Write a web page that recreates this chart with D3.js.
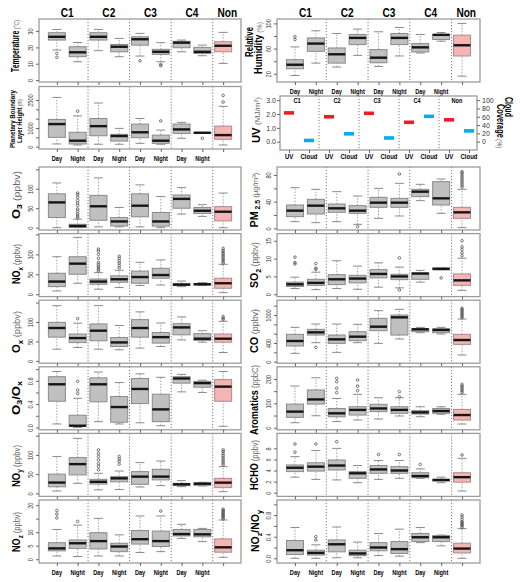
<!DOCTYPE html>
<html><head><meta charset="utf-8">
<script src="https://cdn.jsdelivr.net/npm/d3@7"></script>
<style>body{margin:0;background:#fff;} svg{display:block;font-family:"Liberation Sans",Arial,sans-serif;}</style>
</head><body>
<script>
// ---------- categories ----------
const groups = ["C1","C2","C3","C4","Non"];
const periods = ["Day","Night","Day","Night","Day","Night","Day","Night",""];
const uvCats = ["UV","Cloud"];

// ---------- box statistics: [lower whisker, Q1, median, Q3, upper whisker] ----------
const temperature = [[18.4,24.5,26.5,29,31],[11.2,14.3,17,20.4,23],[18,24.5,26.5,29,31],[14.3,17.3,20.4,21.8,25.5],[14.7,21.4,25,26.5,28.6],[11.2,15.7,17.3,18.8,22.9],[17.3,19.8,22.9,23.7,24.5],[14.9,16.3,17.3,20,21.4],[10.2,17.3,21,23.5,29.2]];
const temperatureOut = [[16.3,13.9],[],[],[],[11.8],[9.6,8.8],[],[],[]];

const pblh = [[145,500,1210,1460,2640],[90,145,320,770,1650],[130,585,1100,1510,2340],[130,300,570,660,980],[180,480,770,1210,1510],[130,180,320,620,890],[450,710,925,1210,1300],[730,735,745,760,765],[90,395,620,1100,2160]];
const pblhOut = [[],[1900],[],[],[],[1380],[],[450],[2390,2750]];

const humidity = [[17.3,28,34.4,42.4,62.7],[37,55.7,68,77,88.3],[30.7,37,51,61,84],[49.3,66.4,77,82.4,91],[31.7,37.6,45.6,58.4,86.7],[48.3,66.4,77,84,93.6],[53,54.7,62,68,82.4],[71.7,74.4,81.9,82.4,85.6],[16.3,48.3,65.3,81.3,100]];
const humidityOut = [[74.4,78.7],[],[],[],[],[],[],[],[]];

const uvValues = [2.08,1.8,2.05,1.4,1.58];
const cloudValues = [3,19,9,61,26];

const o3 = [[0,26,65,87,115],[0,0.5,4.3,8.7,22],[2,19,55,83,128],[2,4.3,16,26,52],[2,28,56.5,87,110],[0,4,16,39,80],[35,50,74,84,103],[29,36.5,43.5,52,59],[0,17.4,41,54,89]];
const o3Out = [[],[25,30,35,42,48,57,63,70,78,85,89],[],[],[],[],[],[],[]];

const nox = [[8,19,31.7,52.5,94],[27.5,50,76.7,94,142.5],[12.5,25,31.7,38,54],[16.7,30,37.5,46,60],[21.7,27.5,43,58,80],[23,40,48,65,86],[19,21.7,24,27,33],[21.7,23,25,27,29],[4,15,27.5,40,75]];
const noxOut = [[],[],[58,62,66,70,75,80,90,100,108,113],[66,72,78,84,90,95],[],[],[],[],[78,82,86,90,94,98,102,106,110,115]];

const ox = [[30,61,84.5,99,142],[34.5,47,58.6,69,97],[30,51.7,77.6,95,142],[28.5,37,47.4,60,91],[32.8,61,84.5,106,126],[37,45.7,61,73,97.4],[54,67,86,95.7,113],[48,52.6,57,70,77.6],[21.5,48,57,69,101.7]];
const oxOut = [[],[108.6],[],[],[],[],[],[],[106,110,114]];

const o3ox = [[0.06,0.45,0.74,0.87,0.96],[0,0.02,0.03,0.21,0.5],[0.1,0.44,0.74,0.85,0.95],[0.06,0.09,0.35,0.53,0.77],[0.08,0.41,0.66,0.84,0.92],[0.03,0.1,0.31,0.57,0.86],[0.61,0.76,0.84,0.87,0.91],[0.6,0.69,0.76,0.79,0.81],[0.02,0.45,0.7,0.82,0.96]];
const o3oxOut = [[],[0.58,0.64,0.79],[],[],[],[],[],[],[]];

const noy = [[6,17,28,50,96],[26,48,76,93,143],[9,24,30,36.5,52],[10,30,39,43.5,58],[16.5,23.5,43.5,56.5,80],[20,35,43.5,62.6,84],[17.4,20,23.5,26,33],[19,21,25,27.8,28.7],[4.3,14.8,27.8,39,69.5]];
const noyOut = [[],[],[61,70,77,87,96,104,113],[76,84,90,96],[],[],[],[],[74,79,84,89,94,99,104,109,113]];

const noz = [[1.2,3.1,4,6.1,11],[1,4,5.9,7.1,12.6],[1.2,3.8,6.7,9.8,15.1],[1.2,2.8,4.7,5.9,9],[2.5,5.6,7.4,10.6,16],[2.8,4.7,6.7,10.4,16],[7.7,8.6,9.3,11,12.9],[6.5,8.3,9.2,11,11.4],[0.7,2.6,4.4,7.5,14.5]];
const nozOut = [[15.3,16.7,18],[14],[],[],[],[17.8],[],[],[14.9,15.3,15.7,16.1,16.5,16.9,17.3,17.7,18.1,18.5]];

const pm25 = [[10,17.5,26.5,35,61],[8.5,21.5,34,43.5,58.5],[10,24,30,36.5,55],[6,22.5,26.5,34,48.5],[15,31.5,38.5,46.5,60],[18.5,31.5,38.5,45,67.5],[41.5,47.5,55,58.5,66],[22.5,35,45,70,74],[1,15,24,31.5,58.5]];
const pm25Out = [[],[],[],[2.5],[],[81.5],[],[],[62,65,68,71,74,77,80,83,85]];

const so2 = [[1.6,2.2,2.8,3.4,4.8],[1.3,2.5,3.2,4.2,6.2],[1.6,2.7,4.2,5.5,9.4],[1.4,3.2,4.4,5.3,7.9],[2,4.6,5.7,6.9,8.8],[1.8,4.1,5,5.6,7.6],[3.4,4.2,5.8,6,6.7],[6.9,6.9,7.1,7.4,7.4],[1.1,2.5,3.9,5.7,10.1]];
const so2Out = [[8.5,8.9,10.4],[7,7.3,8.6],[],[],[],[1.2,10.2],[],[4.6],[10.8,11.6,12.5,13.3,15]];

const co = [[179,336,443,586,736],[407,571,629,693,807],[200,393,479,571,807],[407,450,536,643,800],[393,664,750,929,1093],[486,571,950,1000,1121],[621,643,693,707,736],[593,621,679,707,736],[143,371,464,586,914]];
const coOut = [[],[307],[],[],[],[],[],[],[940,970,1000,1030,1060,1090,1120,1143]];

const aromatics = [[20.5,42.5,66,97,171],[49,97,116,155,205],[25,45,59,79,120],[31.5,52,73,86,137],[35.6,66,79,96,123],[48,59,73,86,123],[45,56,63,70,86],[55,59,68.5,79,86],[15,31.5,52,75,137]];
const aromaticsOut = [[],[],[144,162,189,203],[152,171,196],[],[127,148],[],[],[144,151,158,164,171,178]];

const hcho = [[2.8,3.8,4.5,5,6.5],[2.4,3.9,4.7,5.4,7.6],[2.3,4.1,4.9,5.9,8],[1.8,2.6,3.5,3.8,4.9],[2.4,3.5,4.2,4.9,5.8],[2.6,3.5,4,4.7,5.8],[2.6,2.7,3,3.6,4.3],[1.8,2.1,2.3,2.4,2.8],[0.3,1.9,2.8,3.6,6.2]];
const hchoOut = [[7.3,8.8],[8.8],[9.2],[],[6.9],[6.9],[5.1],[],[6.8]];

const nozNoy = [[0,0.07,0.15,0.33,0.57],[0,0.06,0.1,0.15,0.25],[0.01,0.12,0.26,0.34,0.58],[0.01,0.05,0.09,0.15,0.3],[0.05,0.14,0.2,0.29,0.46],[0.04,0.09,0.17,0.31,0.54],[0.29,0.31,0.39,0.46,0.57],[0.23,0.31,0.39,0.42,0.43],[0,0.1,0.18,0.28,0.55]];
const nozNoyOut = [[],[0.34,0.4],[],[],[],[],[],[],[0.57,0.6,0.62,0.64,0.66,0.68,0.72,0.76,0.8]];

// ---------- tick values and labelled ticks ----------
const tTemp=[0,10,20,30], lTemp=[0,10,20,30];
const tPblh=[0,500,1000,1500,2000,2500], lPblh=[0,1000,2500];
const tRH=[20,40,60,80,100], lRH=[20,60,100];
const tPpb=[0,50,100,150], lPpb=[0,50,100];
const tRatio=[0,0.2,0.4,0.6,0.8,1.0], lRatio=[0,0.4,0.8];
const tNoz=[0,5,10,15,20], lNoz=[0,5,10,20];
const tPm=[0,20,40,60,80], lPm=[0,40,80];
const tSo2=[0,5,10,15], lSo2=[0,5,10,15];
const tCo=[0,200,400,600,800,1000,1200], lCo=[0,400,1000];
const tArom=[0,50,100,150,200], lArom=[0,100,200];
const tHcho=[0,2,4,6,8], lHcho=[0,2,4,6,8];
const tUV=[0,1,2,3], tCloud=[0,20,40,60,80,100];

// ---------- layout ----------
const svg = d3.select("body").append("svg").attr("width",520).attr("height",582);
const colX = [[39,241],[277,480]];
const xDom = [0.14,9.86];
const rowTop = [167,233.6,300.2,366.8,433.4,500];
const PH = 63;
const FONT = '"Liberation Sans", Arial, sans-serif';

const panels = [
  {s:temperature,o:temperatureOut,col:0,top:19,h:PH,dom:[-1.2,37.4],t:tTemp,l:lTemp,xl:false},
  {s:pblh,o:pblhOut,col:0,top:86.5,h:62.5,dom:[-125,3225],t:tPblh,l:lPblh,xl:true},
  {s:humidity,o:humidityOut,col:1,top:19,h:PH,dom:[7,107],t:tRH,l:lRH,xl:true},
  {s:o3,o:o3Out,col:0,top:rowTop[0],h:PH,dom:[-6,156],t:tPpb,l:lPpb},
  {s:nox,o:noxOut,col:0,top:rowTop[1],h:PH,dom:[-6,152],t:tPpb,l:lPpb},
  {s:ox,o:oxOut,col:0,top:rowTop[2],h:PH,dom:[-6,156],t:tPpb,l:lPpb},
  {s:o3ox,o:o3oxOut,col:0,top:rowTop[3],h:PH,dom:[-0.04,1.04],t:tRatio,l:lRatio,fmt:d3.format(".1f")},
  {s:noy,o:noyOut,col:0,top:rowTop[4],h:PH,dom:[-8,156],t:tPpb,l:lPpb},
  {s:noz,o:nozOut,col:0,top:rowTop[5],h:PH,dom:[-1.4,21.9],t:tNoz,l:lNoz,xl:true},
  {s:pm25,o:pm25Out,col:1,top:rowTop[0],h:PH,dom:[-2.5,92],t:tPm,l:lPm},
  {s:so2,o:so2Out,col:1,top:rowTop[1],h:PH,dom:[-0.65,17],t:tSo2,l:lSo2},
  {s:co,o:coOut,col:1,top:rowTop[2],h:PH,dom:[-32,1317],t:tCo,l:lCo},
  {s:aromatics,o:aromaticsOut,col:1,top:rowTop[3],h:PH,dom:[-8.6,250],t:tArom,l:lArom},
  {s:hcho,o:hchoOut,col:1,top:rowTop[4],h:PH,dom:[-0.67,10.7],t:tHcho,l:lHcho},
  {s:nozNoy,o:nozNoyOut,col:1,top:rowTop[5],h:PH,dom:[-0.087,1.08],t:tRatio,l:lRatio,fmt:d3.format(".1f"),xl:true}
];

function hText(x, y, str, fs, bold, sx, anchor, fill){
  svg.append("g").attr("transform",`translate(${x},${y}) scale(${sx},1)`)
    .append("text").attr("text-anchor",anchor||"middle").attr("font-size",fs)
    .attr("font-weight",bold?"bold":"normal").attr("fill",fill||"#000").text(str);
}

function rotLabel(cx, cy, rot, target, parts){
  const g = svg.append("g").attr("transform",`translate(${cx},${cy}) rotate(${rot})`);
  const t = g.append("text").attr("text-anchor","middle").attr("y",3.5);
  parts.forEach(([s,fs,bold,fill,dy]) => {
    const ts = t.append("tspan").text(s).attr("font-size",fs)
      .attr("font-weight",bold?"bold":"normal").attr("fill",fill||"#000");
    if (dy) ts.attr("dy",dy);
  });
  const len = t.node().getComputedTextLength();
  t.attr("transform",`scale(${target/len},1)`);
}

function drawPanel(p){
  const [x0,x1] = colX[p.col];
  const x = d3.scaleLinear().domain(xDom).range([x0,x1]);
  const y = d3.scaleLinear().domain(p.dom).range([p.top+p.h,p.top]);
  const g = svg.append("g");
  [2.5,4.5,6.5,8.5].forEach(d => g.append("line").attr("x1",x(d)).attr("x2",x(d))
    .attr("y1",p.top).attr("y2",p.top+p.h).attr("stroke","#555").attr("stroke-width",0.8)
    .attr("stroke-dasharray","1.2,1.8"));
  const bw = 17, cap = 4.5;
  p.s.forEach((s,i) => {
    const cx = x(i+1);
    const pink = i === 8;
    const fill = pink ? "#f4b5b5" : "#c0c0c0";
    const stroke = pink ? "#b08888" : "#8a8a8a";
    g.append("line").attr("x1",cx).attr("x2",cx).attr("y1",y(s[0])).attr("y2",y(s[1]))
      .attr("stroke","#999").attr("stroke-width",0.9).attr("stroke-dasharray","1.5,1.5");
    g.append("line").attr("x1",cx).attr("x2",cx).attr("y1",y(s[3])).attr("y2",y(s[4]))
      .attr("stroke","#999").attr("stroke-width",0.9).attr("stroke-dasharray","1.5,1.5");
    [s[0],s[4]].forEach(v => g.append("line").attr("x1",cx-cap).attr("x2",cx+cap)
      .attr("y1",y(v)).attr("y2",y(v)).attr("stroke","#8a8a8a").attr("stroke-width",1));
    g.append("rect").attr("x",cx-bw/2).attr("width",bw).attr("y",y(s[3]))
      .attr("height",Math.max(1,y(s[1])-y(s[3]))).attr("fill",fill).attr("stroke",stroke).attr("stroke-width",1);
    g.append("line").attr("x1",cx-bw/2).attr("x2",cx+bw/2).attr("y1",y(s[2])).attr("y2",y(s[2]))
      .attr("stroke","#151515").attr("stroke-width",2.4);
    (p.o[i]||[]).forEach(v => g.append("circle").attr("cx",cx).attr("cy",y(v)).attr("r",1.3)
      .attr("fill","none").attr("stroke","#555").attr("stroke-width",0.8));
  });
  g.append("rect").attr("x",x0).attr("y",p.top).attr("width",x1-x0).attr("height",p.h)
    .attr("fill","none").attr("stroke","#9c9c9c").attr("stroke-width",1.3);
  const fmt = p.fmt || d3.format("d");
  const ag = svg.append("g").attr("transform",`translate(${x0},0)`)
    .call(d3.axisLeft(y).tickValues(p.t).tickSize(3).tickPadding(0)
      .tickFormat(v => p.l.some(q => Math.abs(q-v)<1e-9) ? fmt(v) : ""));
  ag.attr("font-family",FONT).attr("font-size",7);
  ag.select(".domain").remove();
  ag.selectAll(".tick line").attr("stroke","#666");
  ag.selectAll(".tick text").attr("x",null).attr("dy",null).attr("text-anchor","middle")
    .attr("fill","#333").attr("transform","translate(-6,0) rotate(-90) scale(0.8,1)");
  const bg = svg.append("g").attr("transform",`translate(0,${p.top+p.h})`)
    .call(d3.axisBottom(x).tickValues(d3.range(1,10)).tickSize(3).tickFormat(""));
  bg.select(".domain").remove();
  bg.selectAll(".tick line").attr("stroke","#666");
  if (p.xl) periods.forEach((d,i) => { if (d) hText(x(i+1), p.top+p.h+11.5, d, 7, true, 0.8); });
  return x;
}

const xs = panels.map(drawPanel);

// column headers
[0,1].forEach(c => {
  const x = d3.scaleLinear().domain(xDom).range(colX[c]);
  groups.forEach((gname,i) => {
    const pos = i < 4 ? 2*i+1.5 : 9.2;
    hText(x(pos), 17, gname, 13, true, 0.78);
  });
});

// ---------- UV / Cloud panel ----------
(function(){
  const x = d3.scaleLinear().domain([0.55,10.4]).range([280,477]);
  const yU = d3.scaleLinear().domain([-0.6,3.3]).range([150,96]);
  const yC = d3.scaleLinear().domain([-20,110]).range([150,96]);
  const g = svg.append("g");
  [2.5,4.5,6.5,8.5].forEach(d => g.append("line").attr("x1",x(d)).attr("x2",x(d))
    .attr("y1",96).attr("y2",150).attr("stroke","#555").attr("stroke-width",0.8).attr("stroke-dasharray","1.2,1.8"));
  groups.forEach((gname,i) => {
    g.append("rect").attr("x",x(2*i+1)-5).attr("width",10).attr("y",yU(uvValues[i])-1.8).attr("height",3.6).attr("fill","#ee1c25");
    g.append("rect").attr("x",x(2*i+2)-5).attr("width",10).attr("y",yC(cloudValues[i])-1.8).attr("height",3.6).attr("fill","#00aeef");
    hText(x(2*i+1.5)-2, 103, gname, 7, true, 0.8);
  });
  g.append("rect").attr("x",280).attr("y",96).attr("width",197).attr("height",54)
    .attr("fill","none").attr("stroke","#9c9c9c").attr("stroke-width",1.3);
  const la = svg.append("g").attr("transform","translate(280,0)")
    .call(d3.axisLeft(yU).tickValues(tUV).tickSize(3).tickPadding(1).tickFormat(d3.format(".1f")));
  la.attr("font-family",FONT).attr("font-size",7); la.select(".domain").remove();
  la.selectAll(".tick line").attr("stroke","#666");
  la.selectAll(".tick text").attr("fill","#333");
  const ra = svg.append("g").attr("transform","translate(477,0)")
    .call(d3.axisRight(yC).tickValues(tCloud).tickSize(3).tickPadding(2).tickFormat(d3.format("d")));
  ra.attr("font-family",FONT).attr("font-size",7); ra.select(".domain").remove();
  ra.selectAll(".tick line").attr("stroke","#666");
  ra.selectAll(".tick text").attr("fill","#333");
  const bg = svg.append("g").attr("transform","translate(0,150)")
    .call(d3.axisBottom(x).tickValues(d3.range(1,11)).tickSize(3).tickFormat(""));
  bg.select(".domain").remove(); bg.selectAll(".tick line").attr("stroke","#666");
  d3.range(1,11).forEach(k => hText(x(k), 158.5, uvCats[(k-1)%2], 7, true, 0.85));
})();

// ---------- axis titles ----------
const G = "#666";
rotLabel(15,46,-90,52,[["Temperature",10,true],[" (°C)",7.5,false,G]]);
rotLabel(11,119,-90,58,[["Planetary Boundary",8,true]]);
rotLabel(18.5,121,-90,44,[["Layer Height",8,true],[" (m)",6.5,false,G]]);
rotLabel(16,195,-90,48,[["O",11,true],["3",7.5,true,"#000",3],[" (ppbv)",9,false,G,-3]]);
rotLabel(16,264,-90,40,[["NO",11,true],["x",7.5,true,"#000",3],[" (ppbv)",9,false,G,-3]]);
rotLabel(16,332,-90,42,[["O",11,true],["x",7.5,true,"#000",3],[" (ppbv)",9,false,G,-3]]);
rotLabel(16,398,-90,34,[["O",11,true],["3",7.5,true,"#000",3],["/O",11,true,"#000",-3],["x",7.5,true,"#000",3]]);
rotLabel(16,466,-90,42,[["NO",11,true],["y",7.5,true,"#000",3],[" (ppbv)",9,false,G,-3]]);
rotLabel(16,532,-90,40,[["NO",11,true],["z",7.5,true,"#000",3],[" (ppbv)",9,false,G,-3]]);

rotLabel(249,42,-90,30,[["Relative",10,true]]);
rotLabel(258.5,48,-90,52,[["Humidity",10,true],[" (%)",7.5,false,G]]);
rotLabel(256,120,-90,46,[["UV",11,true],[" (MJ/m²)",8,false,G]]);
rotLabel(509,107,90,20,[["Cloud",10,true]]);
rotLabel(501,126,90,44,[["Coverage",10,true],[" (%)",7.5,false,G]]);
rotLabel(254,200,-90,55,[["PM",11,true],[" 2.5",7,true,"#000",3],[" (μg/m³)",8,false,G,-3]]);
rotLabel(254,265,-90,46,[["SO",11,true],["2",7.5,true,"#000",3],[" (ppbv)",9,false,G,-3]]);
rotLabel(254,331,-90,44,[["CO",11,true],[" (ppbv)",9,false,G]]);
rotLabel(254,400,-90,70,[["Aromatics",11,true],[" (ppbC)",9,false,G]]);
rotLabel(254,465,-90,50,[["HCHO",11,true],[" (ppbv)",9,false,G]]);
rotLabel(255,531,-90,42,[["NO",11,true],["z",7.5,true,"#000",3],["/NO",11,true,"#000",-3],["y",7.5,true,"#000",3]]);
</script>
</body></html>
